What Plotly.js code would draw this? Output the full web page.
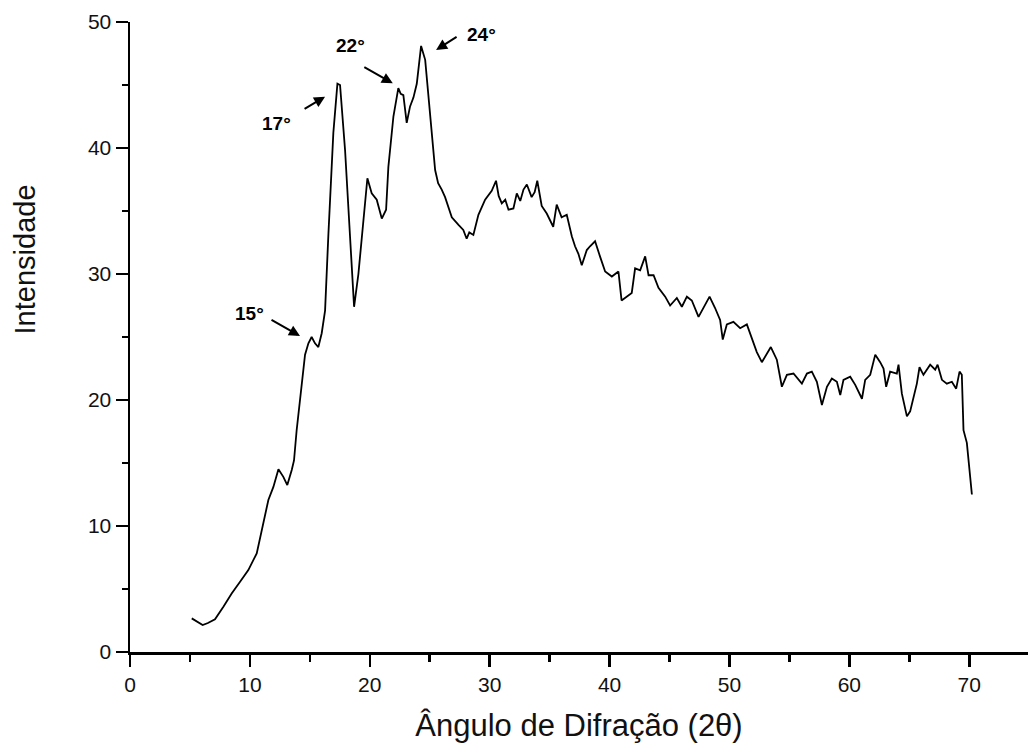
<!DOCTYPE html>
<html>
<head>
<meta charset="utf-8">
<script src="https://cdn.plot.ly/plotly-3.0.1.min.js"></script>
<style>html,body{margin:0;padding:0;background:#fff;}#chart{width:1028px;height:756px;}</style>
</head>
<body>
<div id="chart"></div>
<script>
// Diffraction angle (2θ) and intensity
const angle2theta = [
 5.15, 5.6, 6.06, 6.5, 7.09, 7.79, 8.48, 9.18, 9.87, 10.57, 11.13, 11.54, 11.96, 12.38, 12.79, 13.12, 13.49, 13.68, 13.9, 14.12, 14.32,
 14.6, 14.88, 15.15, 15.43, 15.71, 15.99, 16.27, 16.55, 16.96, 17.3, 17.52, 17.94, 18.35, 18.69, 19.05, 19.46, 19.8, 20.16, 20.58,
 21.0, 21.36, 21.55, 21.97, 22.38, 22.58, 22.8, 23.08, 23.36, 23.64, 23.92, 24.28, 24.62, 25.03, 25.3, 25.45, 25.7, 26.0, 26.28,
 26.84, 27.4, 27.8, 28.08, 28.3, 28.64, 29.06, 29.62, 30.17, 30.53, 30.75, 31.01, 31.3, 31.57, 31.98, 32.26, 32.55, 32.82, 33.1,
 33.5, 33.75, 33.97, 34.34, 34.76, 35.3, 35.59, 36.0, 36.43, 36.85, 37.12, 37.4, 37.68, 38.1, 38.37, 38.79, 39.2, 39.63, 40.19,
 40.74, 41.0, 41.43, 41.85, 42.13, 42.55, 42.97, 43.25, 43.67, 44.08, 44.64, 45.05, 45.61, 46.03, 46.45, 46.86, 47.42, 47.84,
 48.34, 48.8, 49.22, 49.44, 49.78, 50.33, 50.89, 51.45, 51.87, 52.28, 52.7, 53.12, 53.45, 53.95, 54.37, 54.79, 55.34, 56.04,
 56.46, 56.87, 57.29, 57.71, 58.13, 58.54, 58.96, 59.24, 59.51, 60.07, 60.49, 61.05, 61.32, 61.74, 62.16, 62.57, 62.85, 63.07,
 63.4, 63.96, 64.1, 64.38, 64.8, 65.07, 65.35, 65.63, 65.85, 66.18, 66.74, 67.16, 67.36, 67.72, 68.13, 68.55, 68.91, 69.19,
 69.38, 69.52, 69.8, 70.02, 70.22
];
const intensity = [
 2.67, 2.4, 2.14, 2.3, 2.6, 3.6, 4.65, 5.58, 6.5, 7.83, 10.2, 12.06, 13.1, 14.5, 13.9, 13.25, 14.44, 15.2, 17.6, 19.5, 21.6,
 23.6, 24.5, 25.0, 24.5, 24.2, 25.3, 27.1, 33.2, 41.2, 45.1, 45.0, 39.8, 33.2, 27.4, 30.0, 34.5, 37.6, 36.4, 35.9,
 34.4, 35.1, 38.5, 42.5, 44.75, 44.3, 44.2, 42.0, 43.3, 44.0, 45.1, 48.1, 47.0, 42.5, 39.8, 38.25, 37.2, 36.7, 36.1,
 34.5, 33.9, 33.5, 32.8, 33.3, 33.1, 34.7, 35.9, 36.6, 37.4, 36.2, 35.6, 35.9, 35.1, 35.2, 36.4, 35.8, 36.7, 37.1,
 36.1, 36.5, 37.4, 35.4, 34.8, 33.75, 35.5, 34.5, 34.7, 33.0, 32.2, 31.6, 30.7, 31.9, 32.2, 32.6, 31.4, 30.2, 29.8,
 30.2, 27.9, 28.2, 28.5, 30.45, 30.3, 31.4, 29.9, 29.9, 28.9, 28.2, 27.5, 28.1, 27.4, 28.2, 27.9, 26.6, 27.3,
 28.2, 27.3, 26.35, 24.8, 26.0, 26.2, 25.7, 26.0, 24.8, 23.8, 23.0, 23.7, 24.2, 23.2, 21.05, 22.0, 22.1, 21.3,
 22.1, 22.25, 21.45, 19.6, 21.05, 21.7, 21.45, 20.4, 21.6, 21.85, 21.2, 20.1, 21.6, 22.0, 23.6, 23.0, 22.5, 21.05,
 22.25, 22.1, 22.8, 20.5, 18.7, 19.1, 20.3, 21.3, 22.6, 22.0, 22.8, 22.4, 22.8, 21.6, 21.3, 21.45, 20.9, 22.25,
 22.0, 17.6, 16.6, 14.7, 12.5
];
const peakLabels = ['15°', '17°', '22°', '24°'];
const xTickVals = [0, 10, 20, 30, 40, 50, 60, 70];
const yTickVals = [0, 10, 20, 30, 40, 50];
const xTitle = 'Ângulo de Difração (2θ)';
const yTitle = 'Intensidade';

const fontFam = 'Arial, "Liberation Sans", sans-serif';

const trace = {
  x: angle2theta, y: intensity, type: 'scatter', mode: 'lines',
  line: {color: '#000', width: 1.8}, hoverinfo: 'skip'
};

function arrow(x, y, ax, ay) {
  return {x: x, y: y, xref: 'x', yref: 'y', ax: ax, ay: ay, axref: 'pixel', ayref: 'pixel',
    text: '', showarrow: true, arrowhead: 2, arrowsize: 1.1, arrowwidth: 2, arrowcolor: '#000'};
}
function label(x, y, t) {
  return {x: x, y: y, xref: 'x', yref: 'y', text: '<b>' + t + '</b>', showarrow: false,
    font: {family: fontFam, size: 19, color: '#000'}};
}

const layout = {
  width: 1028, height: 756,
  margin: {l: 130, r: 0, t: 22, b: 104},
  paper_bgcolor: '#fff', plot_bgcolor: '#fff',
  showlegend: false,
  xaxis: {
    range: [0, 74.9], showgrid: false, zeroline: false,
    showline: true, linecolor: '#000', linewidth: 2.5,
    ticks: 'outside', ticklen: 12, tickwidth: 2.5, tickcolor: '#000',
    tickvals: xTickVals, ticktext: xTickVals.map(String),
    minor: {ticks: 'outside', ticklen: 7, tickwidth: 2.5, tickcolor: '#000', dtick: 5, showgrid: false},
    tickfont: {family: fontFam, size: 21, color: '#111'},
    title: {text: xTitle, font: {family: fontFam, size: 31, color: '#111'}, standoff: 20}
  },
  yaxis: {
    range: [0, 50], showgrid: false, zeroline: false,
    showline: true, linecolor: '#000', linewidth: 2.5,
    ticks: 'outside', ticklen: 12, tickwidth: 2.5, tickcolor: '#000',
    tickvals: yTickVals, ticktext: yTickVals.map(String),
    minor: {ticks: 'outside', ticklen: 6, tickwidth: 2.5, tickcolor: '#000', dtick: 5, showgrid: false},
    tickfont: {family: fontFam, size: 21, color: '#111'}
  },
  annotations: [
    {x: -0.117, y: 0.623, xref: 'paper', yref: 'paper', text: yTitle, textangle: -90,
     showarrow: false, xanchor: 'center', yanchor: 'middle',
     font: {family: fontFam, size: 29, color: '#111'}},
    label(10.0, 26.85, peakLabels[0]), arrow(14.18, 25.08, -30, -17),
    label(12.24, 41.98, peakLabels[1]), arrow(16.27, 44.07, -22, 13),
    label(18.41, 48.17, peakLabels[2]), arrow(21.92, 45.13, -30, -17),
    label(29.34, 48.97, peakLabels[3]), arrow(25.53, 47.78, 22, -14)
  ]
};

Plotly.newPlot('chart', [trace], layout, {displayModeBar: false, staticPlot: true});
</script>
</body>
</html>
